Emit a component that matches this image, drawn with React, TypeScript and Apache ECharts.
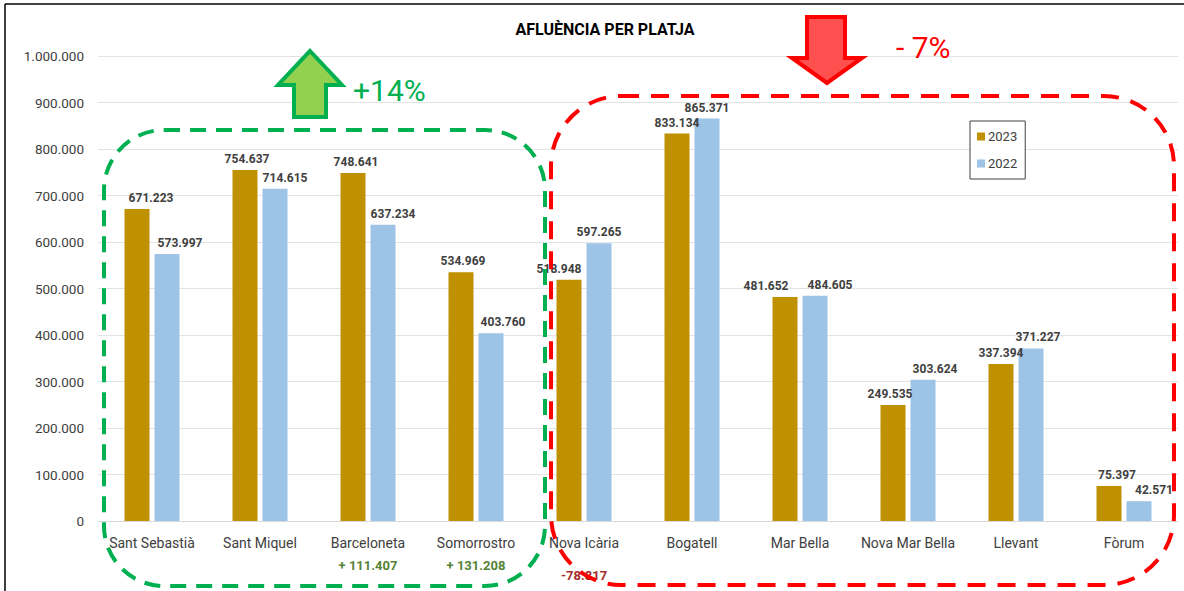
import React, { useEffect, useRef } from "react";
import * as echarts from "echarts";

const categories = ["Sant Sebastià", "Sant Miquel", "Barceloneta", "Somorrostro", "Nova Icària", "Bogatell", "Mar Bella", "Nova Mar Bella", "Llevant", "Fòrum"];
const values2023 = [671223, 754637, 748641, 534969, 518948, 833134, 481652, 249535, 337394, 75397];
const values2022 = [573997, 714615, 637234, 403760, 597265, 865371, 484605, 303624, 371227, 42571];
const diffNotes = [
  { text: "+ 111.407", cat: "Barceloneta", color: "#548235" },
  { text: "+ 131.208", cat: "Somorrostro", color: "#548235" },
  { text: "-78.817", cat: "Nova Icària", color: "#a52a2a" },
];
const yTicks = [0, 100000, 200000, 300000, 400000, 500000, 600000, 700000, 800000, 900000, 1000000];

// label horizontal nudges (styling, as placed in the original)
const labelDx2023 = [14, 2, 3, 2, -10, 0, -19, -3, 0, 8];
const labelDx2022 = [13, 10, 10, 12, 0, 0, 15, 12, 7, 15];

const fmt = (v: number) => String(Math.round(v)).replace(/\B(?=(\d{3})+(?!\d))/g, ".");
const FONT = "Roboto, 'Noto Sans', sans-serif";

export default function App() {
  const ref = useRef<HTMLDivElement>(null);
  useEffect(() => {
    if (!ref.current) return;
    const chart = echarts.init(ref.current, null, { renderer: "svg" });
    const gridLeft = 98, gridRight = 6, width = 1184;
    const catW = (width - gridLeft - gridRight) / categories.length;
    const catX = (c: string) => gridLeft + catW * (categories.indexOf(c) + 0.5);
    const notes = diffNotes.map((n) => ({
      type: "text",
      x: catX(n.cat),
      y: n.cat === "Nova Icària" ? 575 : 565,
      z: 5,
      style: { text: n.text, fill: n.color, font: `bold 13px ${FONT}`, textAlign: "center", textVerticalAlign: "middle" },
    }));
    const labelStyle = { show: true, position: "top", distance: 5, formatter: (p: any) => fmt(p.value), color: "#404040", fontWeight: "bold", fontSize: 12, fontFamily: FONT };
    const mk = (vals: number[], dx: number[]) => vals.map((v, i) => ({ value: v, label: { offset: [dx[i], 0] } }));
    chart.setOption({
      animation: false,
      backgroundColor: "#fff",
      textStyle: { fontFamily: FONT },
      title: { text: "AFLUÈNCIA PER PLATJA", left: 600, textAlign: "center", top: 16, textStyle: { fontSize: 16, fontWeight: "bold", color: "#000", fontFamily: FONT } },
      legend: {
        orient: "vertical",
        left: 970,
        top: 121,
        itemWidth: 8,
        itemHeight: 8,
        itemGap: 14,
        padding: [9, 8, 9, 7],
        borderColor: "#404040",
        borderWidth: 1,
        backgroundColor: "#fff",
        icon: "rect",
        textStyle: { fontSize: 13, color: "#404040", fontFamily: FONT, padding: [0, 0, 0, -2] },
        data: ["2023", "2022"],
      },
      grid: { left: gridLeft, right: gridRight, top: 56, bottom: 70 },
      xAxis: {
        type: "category",
        data: categories,
        axisLine: { lineStyle: { color: "#d9d9d9" } },
        axisTick: { show: false },
        axisLabel: { color: "#404040", fontSize: 14, margin: 15, interval: 0, fontFamily: FONT },
      },
      yAxis: {
        type: "value",
        min: 0,
        max: yTicks[yTicks.length - 1],
        interval: yTicks[1] - yTicks[0],
        axisLabel: { color: "#404040", fontSize: 13.5, formatter: (v: number) => fmt(v), margin: 14, fontFamily: FONT },
        splitLine: { lineStyle: { color: "#e3e3e3" } },
        axisLine: { show: false },
        axisTick: { show: false },
      },
      series: [
        { name: "2023", type: "bar", data: mk(values2023, labelDx2023), barWidth: 25, barGap: "20%", itemStyle: { color: "#bf9000" }, label: labelStyle },
        { name: "2022", type: "bar", data: mk(values2022, labelDx2022), barWidth: 25, itemStyle: { color: "#9dc3e6" }, label: labelStyle },
      ],
      graphic: [
        { type: "line", z: 10, shape: { x1: 5, y1: 4, x2: 1184, y2: 4 }, style: { stroke: "#000", lineWidth: 1.5 } },
        { type: "line", z: 10, shape: { x1: 5, y1: 4, x2: 5, y2: 591 }, style: { stroke: "#000", lineWidth: 1.5 } },
        ...notes,
        {
          type: "rect", z: 20,
          shape: { x: 104, y: 130, width: 441, height: 456, r: 60 },
          style: { fill: "none", stroke: "#00b050", lineWidth: 4, lineDash: [16, 10] },
        },
        {
          type: "rect", z: 20,
          shape: { x: 551, y: 96, width: 623, height: 489, r: 70 },
          style: { fill: "none", stroke: "#ff0000", lineWidth: 4, lineDash: [18, 12] },
        },
        {
          type: "polygon", z: 20,
          shape: { points: [[310, 51], [342, 85], [326, 85], [326, 117], [294, 117], [294, 85], [278, 85]] },
          style: { fill: "#92d050", stroke: "#00b050", lineWidth: 4, lineJoin: "miter" },
        },
        { type: "text", z: 20, x: 353, y: 90, style: { text: "+14%", fill: "#00b050", font: `30px ${FONT}`, textVerticalAlign: "middle" } },
        {
          type: "polygon", z: 20,
          shape: { points: [[807, 17], [845, 17], [845, 58], [862, 58], [827, 83], [792, 58], [807, 58]] },
          style: { fill: "#ff5050", stroke: "#ff0000", lineWidth: 4, lineJoin: "miter" },
        },
        { type: "text", z: 20, x: 896, y: 47, style: { text: "- 7%", fill: "#ff0000", font: `30px ${FONT}`, textVerticalAlign: "middle" } },
      ],
    });
    return () => chart.dispose();
  }, []);
  return <div ref={ref} style={{ position: "fixed", left: 0, top: 0, width: 1184, height: 591 }} />;
}
